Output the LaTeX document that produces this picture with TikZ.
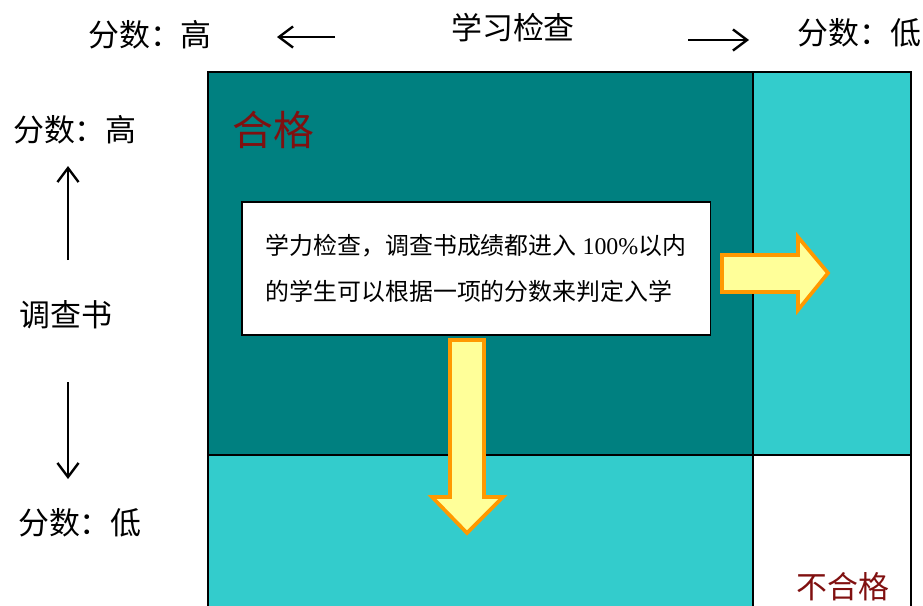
\documentclass[tikz,border=0pt]{standalone}
\usepackage{fontspec}
\setmainfont{Liberation Serif}
\newfontfamily\cjk{Noto Sans CJK SC}
\usepackage{xcolor}
\usepackage{tikz}
\usetikzlibrary{arrows.meta, positioning, calc}
\definecolor{tealdark}{RGB}{0,128,128}
\definecolor{turq}{RGB}{51,204,204}
\definecolor{passred}{RGB}{128,16,16}
\definecolor{pale}{RGB}{255,255,153}
\definecolor{amber}{RGB}{255,153,0}
\tikzstyle{scorelabel} = [font=\cjk\fontsize{22}{26}\selectfont, inner sep=0pt]
\tikzstyle{thinarrow} = [line width=1.7pt, -{Straight Barb[length=10pt,width=15pt]}]
\tikzstyle{blockarrow} = [fill=pale, draw=amber, line width=2.6pt, line join=miter]
\tikzstyle{grid} = [line width=2pt, draw=black]

\begin{document}
\begin{tikzpicture}[x=0.025cm, y=-0.025cm]
		\useasboundingbox (0,0) rectangle (923,606);
		% quadrants
		\fill[tealdark] (208,72) rectangle (753,455);
		\fill[turq] (753,72) rectangle (911,455);
		\fill[turq] (208,455) rectangle (753,606);
		\draw[grid] (208,606) -- (208,72) -- (911,72) -- (911,606);
		\draw[grid] (753,72) -- (753,606);
		\draw[grid] (208,455) -- (911,455);
		
		% axis labels
		\node (topHigh) [scorelabel] at (150,35) {分数：高};
		\node (topTitle) [scorelabel] at (513,28) {学习检查};
		\node (topLow) [scorelabel, anchor=west] at (797,33) {分数：低};
		\node (sideHigh) [scorelabel] at (75,130) {分数：高};
		\node (sideTitle) [scorelabel] at (66,315) {调查书};
		\node (sideLow) [scorelabel] at (80,523) {分数：低};
		
		\coordinate (tlS) at (335,37);
		\coordinate (tlE) at (277,37);
		\coordinate (trS) at (688,40);
		\coordinate (trE) at (749,40);
		\coordinate (suS) at (68,260);
		\coordinate (suE) at (68,166);
		\coordinate (sdS) at (68,382);
		\coordinate (sdE) at (68,479);
		\draw[thinarrow] (tlS) -- (tlE);
		\draw[thinarrow] (trS) -- (trE);
		\draw[thinarrow] (suS) -- (suE);
		\draw[thinarrow] (sdS) -- (sdE);
		
		% region titles
		\node (pass) [anchor=west, inner sep=0pt, text=passred, font=\cjk\fontsize{29}{32}\selectfont] at (232,130) {合格};
		\node (fail) [inner sep=0pt, text=passred, font=\cjk\fontsize{22}{26}\selectfont] at (843,587) {不合格};
		
		% note
		\node (info) [draw, thick, fill=white, minimum width=11.7cm, minimum height=3.325cm, align=left, font=\cjk\fontsize{17}{33}\selectfont] at (476,268.5) {学力检查，调查书成绩都进入{\rmfamily\ 100\%}以内\\的学生可以根据一项的分数来判定入学};
		
		% block arrows
		\draw[blockarrow] (722,255) -- (798,255) -- (798,237) -- (828,273) -- (798,310) -- (798,292) -- (722,292) -- cycle;
		\draw[blockarrow] (450,340) -- (484,340) -- (484,497) -- (503,497) -- (467,533) -- (432,497) -- (450,497) -- cycle;
	\end{tikzpicture}
\end{document}
